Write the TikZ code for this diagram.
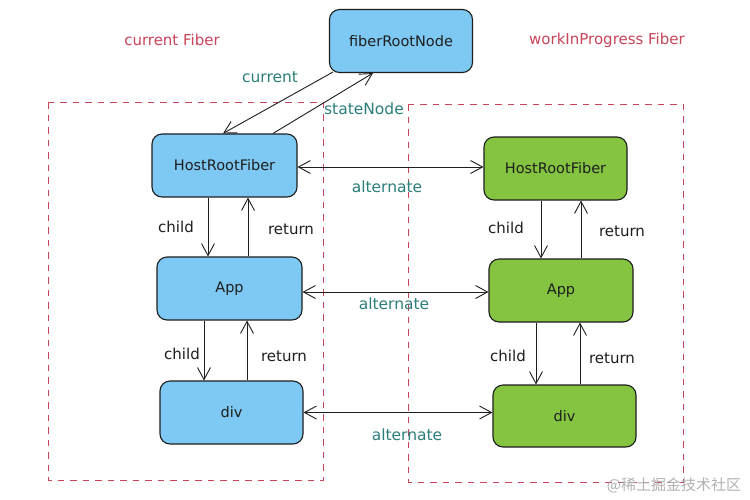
\documentclass[tikz,border=0pt]{standalone}
\usepackage{fontspec}
\setmainfont{DejaVu Sans}
\newfontfamily\cjkfont{Noto Sans CJK SC}
\usetikzlibrary{arrows.meta,calc}
\definecolor{fblue}{HTML}{7DC9F3}
\definecolor{fgreen}{HTML}{84C441}
\definecolor{lteal}{HTML}{2B7F7B}
\definecolor{lred}{HTML}{C8455A}
\definecolor{ink}{HTML}{1E1E1E}
\tikzset{
  fibbox/.style={draw=ink, line width=1.1pt, rounded corners=10pt, text=ink,
    inner sep=0pt, font=\fontsize{14.5}{17}\selectfont},
  bluebox/.style={fibbox, fill=fblue},
  greenbox/.style={fibbox, fill=fgreen},
  tip/.tip={Straight Barb[length=12pt,width=13pt,line width=0.9pt]},
  arr/.style={draw=ink, line width=0.9pt, -tip},
  darr/.style={draw=ink, line width=0.9pt, tip-tip},
  tlabel/.style={text=lteal, font=\fontsize{15.5}{18}\selectfont, inner sep=0pt},
  blabel/.style={text=ink, font=\fontsize{15}{18}\selectfont, inner sep=0pt},
  rlabel/.style={text=lred, font=\fontsize{15}{18}\selectfont, inner sep=0pt},
  area/.style={draw=lred, line width=0.9pt, dash pattern=on 6.5pt off 6pt}
}
\begin{document}
\begin{tikzpicture}[x=1pt,y=-1pt]
\useasboundingbox[fill=white] (0,0) rectangle (750,499);
% dashed areas
\draw[area] (48,102) rectangle (323,480);
\draw[area] (408,104) rectangle (683,482);
% titles
\node[rlabel] (tcur) at (172,40) {current Fiber};
\node[rlabel] (twip) at (607,40) {workInProgress Fiber};
% boxes
\node[bluebox, minimum width=143pt, minimum height=63pt] (fiber) at (401,41) {fiberRootNode};
\node[bluebox, minimum width=145pt, minimum height=63pt] (hb) at (224.5,165.5) {HostRootFiber};
\node[greenbox, minimum width=143pt, minimum height=63pt] (hg) at (555.5,168.5) {HostRootFiber};
\node[bluebox, minimum width=145pt, minimum height=63pt] (ab) at (229.5,288.5) {App};
\node[greenbox, minimum width=144pt, minimum height=63pt] (ag) at (561,290.5) {App};
\node[bluebox, minimum width=143pt, minimum height=63pt] (db) at (231.5,412.5) {div};
\node[greenbox, minimum width=143pt, minimum height=62pt] (dg) at (564.5,416) {div};
% current / stateNode
\draw[arr] ([xshift=4pt,yshift=1pt]fiber.south west) -- ([xshift=-1.5pt]hb.north);
\draw[arr] ([xshift=48.5pt]hb.north) -- ([xshift=-28pt]fiber.south);
\node[tlabel] (lcur) at (270,77) {current};
\node[tlabel] (lsn) at (364,109) {stateNode};
% alternate
\draw[darr] ([yshift=-1.5pt]hb.east) -- ([yshift=-1.5pt]hb.east -| hg.west);
\node[tlabel] (la1) at (387,187) {alternate};
\draw[darr] ([yshift=-3.5pt]ab.east) -- ([yshift=-3.5pt]ab.east -| ag.west);
\node[tlabel] (la2) at (394,304) {alternate};
\draw[darr] (db.east) -- (db.east -| dg.west);
\node[tlabel] (la3) at (407,435) {alternate};
% child / return blue
\draw[arr] (208,0 |- hb.south) -- (208,0 |- ab.north);
\node[blabel] (c1) at (176,227) {child};
\draw[arr] (248,0 |- ab.north) -- (248,0 |- hb.south);
\node[blabel] (r1) at (291,229) {return};
\draw[arr] (204,0 |- ab.south) -- (204,0 |- db.north);
\node[blabel] (c2) at (182,354) {child};
\draw[arr] (247,0 |- db.north) -- (247,0 |- ab.south);
\node[blabel] (r2) at (284,356) {return};
% child / return green
\draw[arr] (541,0 |- hg.south) -- (541,0 |- ag.north);
\node[blabel] (c3) at (506,228) {child};
\draw[arr] (581,0 |- ag.north) -- (581,0 |- hg.south);
\node[blabel] (r3) at (622,231) {return};
\draw[arr] (536,0 |- ag.south) -- (536,0 |- dg.north);
\node[blabel] (c4) at (508,356) {child};
\draw[arr] (580,0 |- dg.north) -- (580,0 |- ag.south);
\node[blabel] (r4) at (612,358) {return};
% watermark
\node[text=black!30, font=\cjkfont\fontsize{15}{17}\selectfont, inner sep=0pt] (wm) at (674,485) {@稀土掘金技术社区};
\end{tikzpicture}
\end{document}
